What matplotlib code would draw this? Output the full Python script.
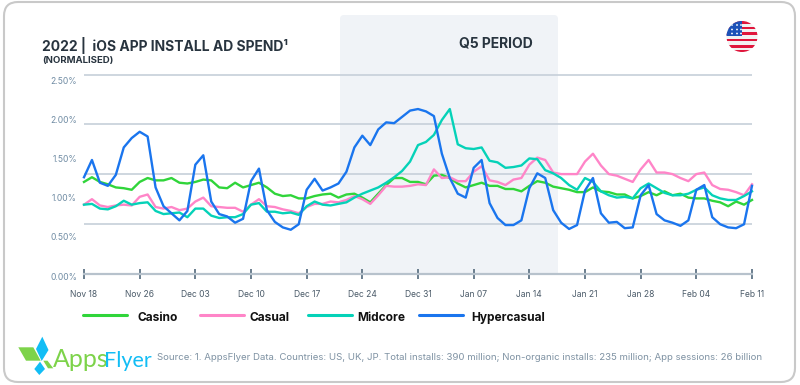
import matplotlib
matplotlib.use("Agg")
import matplotlib.pyplot as plt
from matplotlib.patches import Circle, FancyBboxPatch, Polygon, Rectangle

plt.rcParams["font.family"] = ["Inter", "DejaVu Sans"]

date_labels = ["Nov 18", "Nov 26", "Dec 03", "Dec 10", "Dec 17", "Dec 24", "Dec 31",
               "Jan 07", "Jan 14", "Jan 21", "Jan 28", "Feb 04", "Feb 11"]
y_labels = ["0.00%", "0.50%", "1.00%", "1.50%", "2.00%", "2.50%"]

casino = [1.20, 1.26, 1.20, 1.17, 1.13, 1.12, 1.10, 1.20, 1.25, 1.22, 1.22, 1.25, 1.19, 1.18, 1.20, 1.23, 1.22,
          1.13, 1.12, 1.19, 1.13, 1.16, 1.19, 1.13, 1.05, 1.02, 1.03, 0.99, 0.99, 1.02, 1.04, 1.05, 1.00,
          1.04, 1.05, 1.00, 0.94, 1.05, 1.16, 1.25, 1.25, 1.20, 1.20, 1.17, 1.28, 1.29, 1.25, 1.18, 1.13,
          1.16, 1.19, 1.15, 1.15, 1.11, 1.11, 1.08, 1.15, 1.21, 1.19, 1.14, 1.12,
          1.10, 1.07, 1.07, 1.13, 1.08, 1.07, 1.04, 1.04, 0.99, 1.02, 1.07, 1.03, 1.08, 1.03, 1.05, 1.00,
          0.99, 0.99, 0.96, 0.94, 0.89, 0.95, 0.91, 0.97]
casual = [0.91, 0.98, 0.90, 0.88, 0.90, 0.91, 0.90, 1.01, 1.04, 0.88, 0.86, 0.88, 0.84, 0.86, 0.95, 1.00, 0.89,
          0.88, 0.87, 0.87, 0.82, 0.91, 0.98, 0.89, 0.88, 0.85, 0.83, 0.80, 0.88, 0.92, 0.92, 0.95, 0.94,
          0.97, 1.02, 0.98, 0.92, 1.03, 1.15, 1.14, 1.14, 1.15, 1.17, 1.16, 1.36, 1.25, 1.26, 1.21, 1.21,
          1.33, 1.40, 1.22, 1.20, 1.16, 1.23, 1.25, 1.42, 1.51, 1.48, 1.32, 1.30,
          1.30, 1.30, 1.46, 1.56, 1.41, 1.30, 1.28, 1.24, 1.20, 1.36, 1.48, 1.32, 1.32, 1.30, 1.25, 1.21,
          1.30, 1.32, 1.16, 1.11, 1.10, 1.07, 1.03, 1.17]
midcore = [0.91, 0.92, 0.86, 0.85, 0.89, 0.96, 0.91, 0.93, 0.94, 0.83, 0.79, 0.80, 0.81, 0.75, 0.86, 0.86, 0.77,
           0.74, 0.75, 0.75, 0.79, 0.91, 0.93, 0.82, 0.82, 0.80, 0.81, 0.78, 0.89, 0.95, 0.91, 0.90, 0.92,
           0.94, 1.00, 1.05, 1.09, 1.13, 1.19, 1.26, 1.34, 1.46, 1.67, 1.71, 1.80, 1.99, 2.13, 1.68, 1.63,
           1.62, 1.64, 1.47, 1.45, 1.38, 1.39, 1.41, 1.50, 1.49, 1.35, 1.31, 1.25,
           1.16, 1.10, 1.25, 1.20, 1.08, 1.03, 1.00, 1.01, 0.99, 1.12, 1.18, 1.12, 1.06, 1.03, 1.03, 1.05,
           1.10, 1.13, 1.03, 0.99, 0.97, 0.97, 1.02, 1.08]
hypercasual = [1.26, 1.48, 1.19, 1.15, 1.29, 1.64, 1.76, 1.84, 1.78, 1.13, 0.89, 0.80, 0.71, 0.83, 1.42, 1.54, 0.95,
               0.79, 0.76, 0.68, 0.73, 1.21, 1.37, 0.84, 0.69, 0.62, 0.59, 0.66, 1.10, 1.24, 1.09, 1.13, 1.18,
               1.33, 1.64, 1.79, 1.67, 1.87, 1.96, 1.95, 2.03, 2.11, 2.13, 2.10, 2.04, 1.56, 1.25, 1.05, 1.00,
               1.38, 1.48, 0.93, 0.74, 0.65, 0.65, 0.71, 1.12, 1.31, 1.25, 0.84, 0.68,
               0.60, 0.65, 1.09, 1.25, 0.80, 0.68, 0.69, 0.61, 0.62, 1.03, 1.16, 0.79, 0.71, 0.68, 0.64, 0.71,
               1.10, 1.16, 0.75, 0.66, 0.62, 0.61, 0.66, 1.15]
series = [("Casino", casino, "#30d53a"), ("Casual", casual, "#ff85c8"),
          ("Midcore", midcore, "#05d2b8"), ("Hypercasual", hypercasual, "#1a75ee")]

fig = plt.figure(figsize=(8, 3.85), dpi=100)

# page layer in pixels: frame, shaded band, logo, flag, texts
page = fig.add_axes([0, 0, 1, 1])
page.set_xlim(0, 800)
page.set_ylim(385, 0)
page.axis("off")

page.add_patch(FancyBboxPatch((4, 2), 791, 380, boxstyle="round,pad=0,rounding_size=14",
                              fc="white", ec="#c9c9c9", lw=1.5))
band = FancyBboxPatch((340, 15), 218, 280, boxstyle="round,pad=0,rounding_size=4", fc="#f0f3f7", ec="none")
page.add_patch(band)
band.set_clip_path(Rectangle((330, 10), 240, 264, transform=page.transData))

page.text(42, 45, "2022 |  iOS APP INSTALL AD SPEND¹", fontsize=10, fontweight="bold", color="#28343f", va="center")
page.text(42, 60, "(NORMALISED)", fontsize=6.9, fontweight="bold", color="#28343f", va="center")
page.text(459, 43.5, "Q5 PERIOD", fontsize=10, fontweight="bold", color="#28343f", va="center")
page.text(157, 357.5, "Source: 1. AppsFlyer Data. Countries: US, UK, JP. Total installs: 390 million; "
          "Non-organic installs: 235 million; App sessions: 26 billion",
          fontsize=6.93, color="#7f92a3", va="center")

# logo
page.add_patch(Polygon([(42.3, 336.7), (48.5, 350), (41.7, 361), (36, 349)], fc="#12bdf5"))
page.add_patch(Polygon([(18.3, 347.3), (33.3, 347.3), (40.7, 360.7), (26, 360.7)], fc="#7dd34a"))
page.add_patch(Polygon([(43.3, 360.7), (47.5, 360.7), (53.3, 368.3), (48, 368.3)], fc="#7dd34a"))
page.add_patch(Polygon([(40, 361.7), (45, 369), (39.3, 375), (34.3, 369)], fc="#12bdf5"))
page.text(53, 367, "Apps", fontsize=18, family="Lato", color="#7dd34a", va="baseline")
page.text(104.5, 367, "Flyer", fontsize=15.5, family="Lato", color="#12bdf5", va="baseline")

# flag
disc = Circle((742, 36.5), 15.5, transform=page.transData)
page.add_patch(Circle((742, 36.5), 15.5, fc="#f2f2f2", ec="none"))
for top in [21, 26.5, 32, 38.5, 45, 50]:
    page.add_patch(Rectangle((725, top), 36, 2.8, fc="#e0163c", ec="none", clip_path=disc))
page.add_patch(Rectangle((725, 20), 17, 16, fc="#1c52b8", ec="none", clip_path=disc))
for dx in [732, 737, 741]:
    for dy in [25, 29.5, 33.5]:
        page.add_patch(Circle((dx, dy), 0.9, fc="white", ec="none", clip_path=disc))

# legend keys and names, placed by hand because the gaps are uneven
for (name, _, color), x0, x1 in zip(series, [83, 200, 308, 419], [137, 249, 357, 471]):
    page.plot([x0, x0 + 44], [315, 315], color=color, lw=2.2, solid_capstyle="round")
    page.text(x1, 318, name, fontsize=8.6, fontweight="bold", color="#111111", va="center")

# chart layer
ax = fig.add_axes([84 / 800, (385 - 276) / 385, 668 / 800, 206 / 385])
ax.patch.set_alpha(0)
ax.set_xlim(0, 84)
ax.set_ylim(0, 2.628)

for level in [0.669, 1.301, 1.935, 2.564]:
    ax.axhline(level, color="#c6cfd9", lw=1.2, zorder=1)

for name, values, color in series:
    ax.plot(range(len(values)), values, color=color, lw=1.7, label=name, zorder=3, solid_joinstyle="round", clip_on=False)

for side in ["top", "left", "right"]:
    ax.spines[side].set_visible(False)
ax.spines["bottom"].set_position(("data", 0.026))
ax.spines["bottom"].set_color("#b7c2cc")
ax.spines["bottom"].set_linewidth(1.6)

ax.set_xticks(range(0, 85, 7))
ax.set_xticklabels(date_labels)
ax.tick_params(axis="x", direction="inout", length=7, width=1.3, color="#5f7486", labelsize=6.1,
               labelcolor="#4a5a68", pad=8)
ax.set_yticks([0, 0.5, 1, 1.5, 2, 2.5])
ax.set_yticklabels(y_labels)
ax.tick_params(axis="y", length=0, labelsize=6.1, labelcolor="#6f8ba3", pad=5)

fig.savefig("out.png", dpi=100)
